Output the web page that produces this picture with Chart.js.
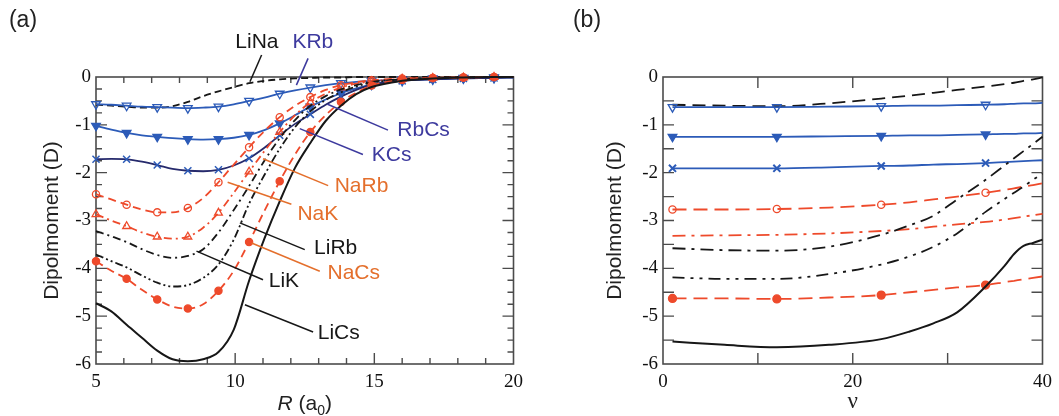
<!DOCTYPE html>
<html>
<head>
<meta charset="utf-8">
<script src="https://cdn.jsdelivr.net/npm/chart.js@4.4.0/dist/chart.umd.min.js"></script>
<style>
  html, body { margin: 0; padding: 0; background: #fff; }
  #wrap { position: relative; width: 1059px; height: 416px; overflow: hidden; }
  .panel { position: absolute; top: 0; }
  #panelA { left: 0; }
  #panelB { left: 530px; }
</style>
</head>
<body>
<div id="wrap">
  <div class="panel" id="panelA"><canvas id="chartA" width="530" height="416"></canvas></div>
  <div class="panel" id="panelB"><canvas id="chartB" width="529" height="416"></canvas></div>
</div>
<script>
// (a) dipole moment against internuclear distance R (a0)
const R = [5, 5.55, 6.1, 6.65, 7.2, 7.75, 8.3, 8.85, 9.4, 9.95, 10.5, 11.05, 11.6, 12.15, 12.7, 13.25, 13.8, 14.35, 14.9, 16, 17.1, 18.2, 19.3, 20];
const R_MARKS = [5, 6.1, 7.2, 8.3, 9.4, 10.5, 11.6, 12.7, 13.8, 14.9, 16, 17.1, 18.2, 19.3];

const LiNa_R = [-0.58, -0.60, -0.62, -0.64, -0.64, -0.61, -0.52, -0.40, -0.30, -0.21, -0.13, -0.08, -0.05, -0.03, -0.02, -0.01, -0.01, 0, 0, 0, 0, 0, 0, 0];
const KRb_R  = [-0.57, -0.58, -0.60, -0.62, -0.63, -0.64, -0.65, -0.64, -0.62, -0.57, -0.50, -0.43, -0.35, -0.28, -0.22, -0.17, -0.13, -0.10, -0.08, -0.05, -0.03, -0.02, -0.01, 0];
const RbCs_R = [-1.02, -1.10, -1.17, -1.22, -1.25, -1.28, -1.30, -1.31, -1.30, -1.27, -1.21, -1.11, -0.97, -0.80, -0.62, -0.47, -0.34, -0.24, -0.16, -0.08, -0.05, -0.03, -0.02, -0.01];
const KCs_R  = [-1.72, -1.71, -1.72, -1.77, -1.84, -1.92, -1.96, -1.97, -1.94, -1.85, -1.70, -1.48, -1.22, -0.98, -0.78, -0.58, -0.41, -0.27, -0.16, -0.08, -0.05, -0.03, -0.02, -0.01];
const NaK_R  = [-2.45, -2.56, -2.67, -2.77, -2.83, -2.83, -2.74, -2.53, -2.20, -1.83, -1.47, -1.13, -0.84, -0.60, -0.42, -0.27, -0.17, -0.11, -0.07, -0.03, -0.02, -0.01, 0, 0];
const NaRb_R = [-2.87, -3.00, -3.12, -3.25, -3.34, -3.38, -3.34, -3.15, -2.84, -2.42, -1.98, -1.55, -1.15, -0.80, -0.53, -0.35, -0.22, -0.14, -0.09, -0.04, -0.02, -0.01, 0, 0];
const LiK_R  = [-3.22, -3.33, -3.45, -3.60, -3.72, -3.78, -3.74, -3.60, -3.25, -2.78, -2.28, -1.75, -1.28, -0.90, -0.60, -0.40, -0.26, -0.17, -0.10, -0.05, -0.02, -0.01, 0, 0];
const LiRb_R = [-3.71, -3.85, -3.98, -4.15, -4.30, -4.38, -4.35, -4.20, -3.92, -3.40, -2.65, -2.05, -1.50, -1.05, -0.72, -0.48, -0.32, -0.20, -0.12, -0.05, -0.02, -0.01, 0, 0];
const NaCs_R = [-3.85, -4.05, -4.22, -4.45, -4.65, -4.80, -4.84, -4.75, -4.47, -4.05, -3.45, -2.80, -2.18, -1.62, -1.15, -0.80, -0.52, -0.33, -0.18, -0.06, -0.02, -0.01, 0, 0];
const LiCs_R = [-4.73, -4.90, -5.18, -5.45, -5.72, -5.90, -5.94, -5.90, -5.75, -5.28, -4.26, -3.38, -2.60, -1.90, -1.38, -0.92, -0.60, -0.36, -0.21, -0.08, -0.03, -0.01, 0, 0];

// (b) dipole moment against vibrational level v
const V = [1, 6.5, 12, 17.5, 23, 26, 28.5, 31, 34, 36, 37, 38, 39, 40];
const V_MARKS = [1, 12, 23, 34];

const LiNa_V = [-0.58, -0.60, -0.61, -0.55, -0.45, -0.39, -0.33, -0.27, -0.20, -0.15, -0.12, -0.08, -0.05, -0.01];
const KRb_V  = [-0.63, -0.63, -0.63, -0.62, -0.61, -0.60, -0.60, -0.59, -0.58, -0.57, -0.56, -0.55, -0.55, -0.54];
const RbCs_V = [-1.25, -1.25, -1.25, -1.24, -1.23, -1.22, -1.22, -1.21, -1.20, -1.19, -1.19, -1.18, -1.18, -1.17];
const KCs_V  = [-1.91, -1.91, -1.91, -1.89, -1.86, -1.85, -1.83, -1.82, -1.80, -1.78, -1.77, -1.76, -1.75, -1.74];
const NaK_V  = [-2.77, -2.77, -2.76, -2.73, -2.67, -2.62, -2.56, -2.50, -2.42, -2.36, -2.33, -2.29, -2.26, -2.22];
const NaRb_V = [-3.32, -3.31, -3.30, -3.27, -3.22, -3.18, -3.13, -3.08, -3.03, -2.98, -2.95, -2.92, -2.89, -2.86];
const LiK_V  = [-3.58, -3.62, -3.63, -3.55, -3.30, -3.10, -2.90, -2.56, -2.15, -1.85, -1.70, -1.55, -1.40, -1.25];
const LiRb_V = [-4.19, -4.22, -4.22, -4.12, -3.92, -3.75, -3.55, -3.27, -2.82, -2.55, -2.42, -2.29, -2.15, -2.02];
const NaCs_V = [-4.63, -4.63, -4.64, -4.61, -4.56, -4.50, -4.45, -4.40, -4.35, -4.29, -4.26, -4.23, -4.20, -4.17];
const LiCs_V = [-5.53, -5.60, -5.65, -5.60, -5.48, -5.32, -5.15, -4.92, -4.38, -3.95, -3.70, -3.53, -3.47, -3.40];

// tick labels
const X_TICKS_A = [5, 10, 15, 20];
const X_TICKS_B = [0, 20, 40];
const Y_TICKS = [0, -1, -2, -3, -4, -5, -6];

const BLACK = '#171717';
const RED = '#ee4a2b';
const BLUE = '#2c5bb8';
const NAVY = '#262a6c';
const TXT_ORANGE = '#e46f2c';
const TXT_BLUE = '#3d3a9e';

function makeSet(name, xs, ys, st, marks) {
    return {
        label: name,
        data: xs.map((x, i) => ({ x: x, y: ys[i] })),
        borderColor: st.color,
        borderWidth: st.width || 1.8,
        borderDash: st.dash || [],
        pointStyle: st.point || 'circle',
        rotation: st.rot || 0,
        pointRadius: ctx => (st.point && marks.includes(xs[ctx.dataIndex])) ? st.r : 0,
        pointBackgroundColor: st.fill || 'rgba(0,0,0,0)',
        pointBorderColor: st.pointColor || st.color,
        pointBorderWidth: st.pw || 1.3,
        pointHoverRadius: 0,
        cubicInterpolationMode: 'monotone',
        fill: false,
        clip: false
    };
}

// box frame with inward ticks on all four sides
const framePlugin = {
    id: 'frame',
    beforeDatasetsDraw(chart, args, opts) {
        const { ctx, chartArea: a, scales: { x, y } } = chart;
        ctx.save();
        ctx.strokeStyle = '#4b4b4b';
        ctx.lineWidth = 1.6;
        ctx.strokeRect(a.left, a.top, a.right - a.left, a.bottom - a.top);
        ctx.lineWidth = 1.4;
        ctx.beginPath();
        for (let v = x.min; v <= x.max + 1e-6; v += opts.xStep) {
            if (v <= x.min + 1e-6 || v >= x.max - 1e-6) continue;
            const len = opts.xMajor.some(m => Math.abs(m - v) < 1e-6) ? opts.major : opts.minor;
            const px = x.getPixelForValue(v);
            ctx.moveTo(px, a.bottom); ctx.lineTo(px, a.bottom - len);
            ctx.moveTo(px, a.top); ctx.lineTo(px, a.top + len);
        }
        for (let v = y.min; v <= y.max + 1e-6; v += opts.yStep) {
            if (v <= y.min + 1e-6 || v >= y.max - 1e-6) continue;
            const isMajor = Math.abs(v - Math.round(v)) < 1e-6;
            const len = isMajor ? opts.major : opts.minor;
            const py = y.getPixelForValue(v);
            ctx.moveTo(a.left, py); ctx.lineTo(a.left + len, py);
            ctx.moveTo(a.right, py); ctx.lineTo(a.right - len, py);
        }
        ctx.stroke();
        ctx.restore();
    }
};

// curve names with leader lines, panel tag, and the R (a0) axis title
const notePlugin = {
    id: 'notes',
    afterDraw(chart, args, opts) {
        const { ctx, scales: { x, y }, chartArea: a } = chart;
        ctx.save();
        ctx.font = '21px "Liberation Sans", Arial, sans-serif';
        ctx.textAlign = 'center';
        ctx.textBaseline = 'middle';
        (opts.items || []).forEach(it => {
            ctx.strokeStyle = it.color;
            ctx.lineWidth = 1.5;
            ctx.beginPath();
            ctx.moveTo(x.getPixelForValue(it.from[0]), y.getPixelForValue(it.from[1]));
            ctx.lineTo(x.getPixelForValue(it.to[0]), y.getPixelForValue(it.to[1]));
            ctx.stroke();
            ctx.fillStyle = it.color;
            ctx.fillText(it.text, x.getPixelForValue(it.at[0]), y.getPixelForValue(it.at[1]));
        });
        ctx.fillStyle = '#222';
        ctx.font = '23px "Liberation Sans", Arial, sans-serif';
        ctx.fillText(opts.tag, opts.tagX, 21);

        if (opts.rTitle) {
            const big = '21px "Liberation Sans", Arial, sans-serif';
            const bigIt = 'italic 21px "Liberation Sans", Arial, sans-serif';
            const small = '14px "Liberation Sans", Arial, sans-serif';
            const parts = [['R', bigIt, 0], [' (a', big, 0], ['0', small, 5], [')', big, 0]];
            let w = 0;
            parts.forEach(p => { ctx.font = p[1]; w += ctx.measureText(p[0]).width; });
            let cx = (a.left + a.right) / 2 - w / 2;
            ctx.textAlign = 'left';
            ctx.textBaseline = 'alphabetic';
            parts.forEach(p => {
                ctx.font = p[1];
                ctx.fillText(p[0], cx, 410 + p[2]);
                cx += ctx.measureText(p[0]).width;
            });
        }
        ctx.restore();
    }
};

const tickFont = { family: '"Liberation Serif", "Times New Roman", serif', size: 19 };
const titleFont = { family: '"Liberation Sans", Arial, sans-serif', size: 21 };

function axes(xTicks, xMin, xMax, yWidth, yTitlePad, xTitle) {
    return {
        x: {
            type: 'linear', min: xMin, max: xMax,
            grid: { display: false, drawTicks: false },
            border: { display: false },
            afterBuildTicks: s => { s.ticks = xTicks.map(v => ({ value: v })); },
            afterFit: s => { s.height = 52; },
            ticks: { font: tickFont, color: '#111', padding: 7, maxRotation: 0 },
            title: xTitle ? { display: true, text: xTitle, font: { family: '"Liberation Serif", serif', size: 23 }, color: '#222', padding: { bottom: 0 } } : { display: false }
        },
        y: {
            type: 'linear', min: -6, max: 0,
            grid: { display: false, drawTicks: false },
            border: { display: false },
            afterBuildTicks: s => { s.ticks = Y_TICKS.map(v => ({ value: v })); },
            afterFit: s => { s.width = yWidth; },
            ticks: { font: tickFont, color: '#111', padding: 5 },
            title: { display: true, text: 'Dipolmoment (D)', font: titleFont, color: '#222', padding: { top: yTitlePad } }
        }
    };
}

const baseOptions = {
    responsive: false,
    animation: false,
    events: [],
    plugins: { legend: { display: false }, tooltip: { enabled: false } }
};

const dA = [7, 4];
const chartA = new Chart(document.getElementById('chartA'), {
    type: 'line',
    data: {
        datasets: [
            makeSet('LiCs', R, LiCs_R, { color: BLACK, width: 2 }, R_MARKS),
            makeSet('NaCs', R, NaCs_R, { color: RED, dash: [8, 5], point: 'circle', r: 3.6, fill: RED }, R_MARKS),
            makeSet('LiRb', R, LiRb_R, { color: BLACK, dash: [8, 3, 2, 3, 2, 3] }, R_MARKS),
            makeSet('LiK', R, LiK_R, { color: BLACK, dash: [8, 4, 2, 4] }, R_MARKS),
            makeSet('NaRb', R, NaRb_R, { color: RED, dash: [8, 4, 2, 4], point: 'triangle', r: 4.5 }, R_MARKS),
            makeSet('NaK', R, NaK_R, { color: RED, dash: [8, 5], point: 'circle', r: 3.6 }, R_MARKS),
            makeSet('KCs', R, KCs_R, { color: NAVY, point: 'crossRot', r: 5, pointColor: BLUE, pw: 1.5 }, R_MARKS),
            makeSet('RbCs', R, RbCs_R, { color: BLUE, point: 'triangle', rot: 180, r: 5, fill: BLUE }, R_MARKS),
            makeSet('KRb', R, KRb_R, { color: BLUE, point: 'triangle', rot: 180, r: 5 }, R_MARKS),
            makeSet('LiNa', R, LiNa_R, { color: BLACK, dash: dA }, R_MARKS)
        ]
    },
    options: Object.assign({}, baseOptions, {
        layout: { padding: { left: 0, right: 16, top: 77, bottom: 0 } },
        scales: axes(X_TICKS_A, 5, 20, 96, 40, null),
        plugins: Object.assign({}, baseOptions.plugins, {
            frame: { xStep: 1, yStep: 0.25, xMajor: X_TICKS_A, major: 11, minor: 6 },
            notes: {
                tag: '(a)', tagX: 23, rTitle: true,
                items: [
                    { text: 'LiNa', color: BLACK, at: [10.78, 0.72], from: [10.95, 0.46], to: [10.53, -0.10] },
                    { text: 'KRb', color: TXT_BLUE, at: [12.79, 0.72], from: [12.62, 0.39], to: [12.2, -0.17] },
                    { text: 'RbCs', color: TXT_BLUE, at: [16.77, -1.12], from: [15.49, -1.11], to: [13.32, -0.57] },
                    { text: 'KCs', color: TXT_BLUE, at: [15.62, -1.64], from: [14.59, -1.62], to: [12.32, -1.08] },
                    { text: 'NaRb', color: TXT_ORANGE, at: [14.54, -2.29], from: [13.34, -2.27], to: [11.0, -1.71] },
                    { text: 'NaK', color: TXT_ORANGE, at: [12.97, -2.86], from: [12.02, -2.66], to: [9.73, -2.2] },
                    { text: 'LiRb', color: BLACK, at: [13.61, -3.58], from: [12.5, -3.61], to: [10.17, -3.05] },
                    { text: 'NaCs', color: TXT_ORANGE, at: [14.26, -4.11], from: [13.04, -4.06], to: [10.59, -3.47] },
                    { text: 'LiK', color: BLACK, at: [11.75, -4.27], from: [11.0, -4.24], to: [8.61, -3.64] },
                    { text: 'LiCs', color: BLACK, at: [13.72, -5.35], from: [12.8, -5.33], to: [10.35, -4.76] }
                ]
            }
        })
    }),
    plugins: [framePlugin, notePlugin]
});

const chartB = new Chart(document.getElementById('chartB'), {
    type: 'line',
    data: {
        datasets: [
            makeSet('LiCs', V, LiCs_V, { color: BLACK, width: 2 }, V_MARKS),
            makeSet('NaCs', V, NaCs_V, { color: RED, dash: [14, 7], point: 'circle', r: 4, fill: RED }, V_MARKS),
            makeSet('LiRb', V, LiRb_V, { color: BLACK, dash: [12, 6, 3, 6, 3, 6] }, V_MARKS),
            makeSet('LiK', V, LiK_V, { color: BLACK, dash: [13, 6, 3, 6] }, V_MARKS),
            makeSet('NaRb', V, NaRb_V, { color: RED, dash: [13, 6, 3, 6] }, V_MARKS),
            makeSet('NaK', V, NaK_V, { color: RED, dash: [14, 7], point: 'circle', r: 3.6 }, V_MARKS),
            makeSet('KCs', V, KCs_V, { color: BLUE, point: 'crossRot', r: 5, pw: 2 }, V_MARKS),
            makeSet('RbCs', V, RbCs_V, { color: BLUE, point: 'triangle', rot: 180, r: 5, fill: BLUE }, V_MARKS),
            makeSet('KRb', V, KRb_V, { color: BLUE, point: 'triangle', rot: 180, r: 5 }, V_MARKS),
            makeSet('LiNa', V, LiNa_V, { color: BLACK, dash: [13, 7] }, V_MARKS)
        ]
    },
    options: Object.assign({}, baseOptions, {
        layout: { padding: { left: 0, right: 14, top: 77, bottom: 0 } },
        scales: axes(X_TICKS_B, 0, 40, 133, 73, 'ν'),
        plugins: Object.assign({}, baseOptions.plugins, {
            frame: { xStep: 10, yStep: 0.5, xMajor: X_TICKS_B, major: 11, minor: 11 },
            notes: { tag: '(b)', tagX: 57, rTitle: false, items: [] }
        })
    }),
    plugins: [framePlugin, notePlugin]
});
</script>
</body>
</html>
